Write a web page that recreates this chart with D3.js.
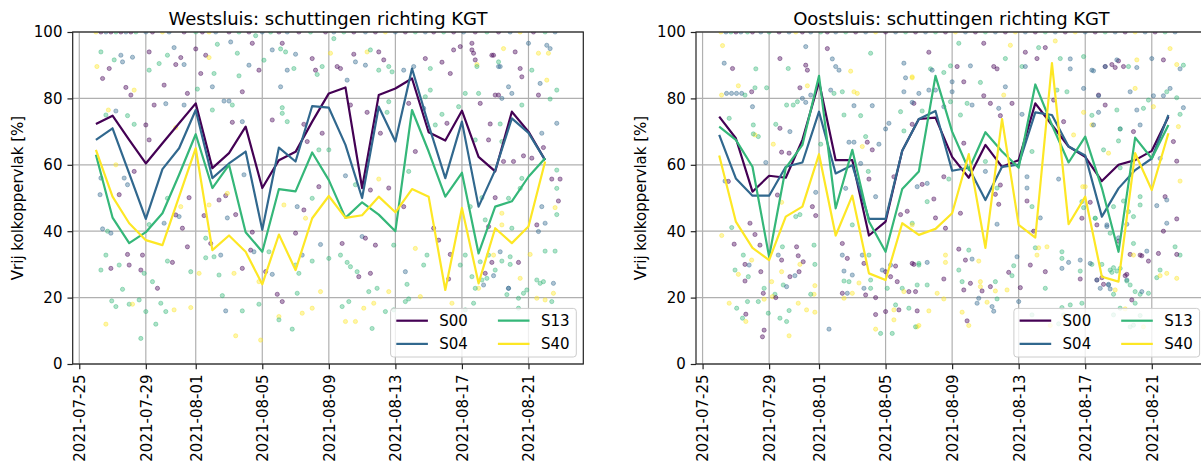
<!DOCTYPE html>
<html>
<head>
<meta charset="utf-8">
<script src="https://cdn.jsdelivr.net/npm/d3@7"></script>
<style>
  body { margin: 0; background: #fff; }
  text { font-family: "DejaVu Sans", sans-serif; fill: #000; }
</style>
</head>
<body>
<svg id="chart" width="1201" height="468"></svg>
<script>
// daily means, first value = 2021-07-26
var firstDay = '2021-07-26';
var seriesNames = ['S00', 'S04', 'S13', 'S40'];
var seriesColors = ['#440154', '#31688e', '#35b779', '#fde725'];
var yTicks = [0, 20, 40, 60, 80, 100];
var xTickDates = ['2021-07-25', '2021-07-29', '2021-08-01', '2021-08-05', '2021-08-09', '2021-08-13', '2021-08-17', '2021-08-21'];

var westS00 = [72.3, 74.8, 67.5, 60.4, 66.5, 72.5, 78.5, 59, 63.5, 71.5, 53, 61.4, 63.9, 73, 81.5, 83.3, 53, 81, 83, 86, 69.8, 67.3, 76.3, 62.4, 58, 76, 70, 61.4];
var westS04 = [67.5, 71, 57.4, 43.7, 58.7, 65, 76.5, 56, 60.4, 64, 40.4, 65.2, 61, 77.7, 77.2, 66, 50, 77.5, 67, 89, 72, 56, 73, 47.4, 58.4, 74, 69.6, 61.4];
var westS13 = [63, 44.1, 36.4, 39.7, 45.4, 57, 69.2, 53, 60, 39.7, 33.8, 52.7, 52, 63.7, 55.4, 44, 48.7, 45, 40, 76.5, 64, 50.4, 57.6, 33.3, 47.4, 49, 56.4, 62];
var westS40 = [64.5, 50.4, 42.4, 37.3, 35.8, 50.4, 65, 34.3, 38.7, 33.8, 24, 39, 28.3, 43.9, 50.6, 44, 44.8, 50.4, 45.7, 52.7, 50.4, 22.3, 47, 24.3, 40.9, 36.4, 41.4, 61];

var oostS00 = [74.5, 68, 51.9, 56.7, 56.1, 67.5, 85, 61.4, 61.4, 38.7, 42.9, 64.2, 73.8, 74.2, 62.4, 56.1, 66, 59.4, 61.4, 78.5, 72, 65.5, 62.4, 55.1, 60, 61.4, 64.2, 74.5];
var oostS04 = [69, 55.9, 50.7, 50.7, 59.4, 60.7, 76, 57.4, 59.9, 43.7, 43.7, 64.2, 73.8, 76.2, 58.2, 59.1, 49.4, 59.4, 60.1, 75.8, 75, 65.5, 62.8, 44.4, 52.9, 58.4, 61.9, 75];
var oostS13 = [71.5, 67.5, 59.4, 32.3, 59.1, 66, 86.8, 46.9, 64.5, 42.9, 33.8, 52.7, 58, 86.8, 70, 58.5, 69.8, 64, 59.1, 84.2, 72, 60.7, 68.5, 53, 33.8, 68.2, 61.9, 72];
var oostS40 = [62.8, 42.9, 35, 31.3, 44.4, 47.4, 63.2, 38.7, 50.7, 27.3, 25.3, 42.4, 38.9, 40.7, 45.4, 63.2, 35, 73.8, 41.9, 38.1, 90.6, 42.1, 50.4, 26.3, 24.8, 63.5, 52.4, 69.5];

// single lockages: [days since firstDay, value, series index]
var westDots = [
  [0.0,100,3],[0.3,100,0],[0.6,100,1],[0.9,100,0],[1.2,100,2],[1.5,100,0],[1.8,100,1],[2.1,100,0],[2.4,100,2],[3.0,100,1],[3.4,100,0],[4.0,100,3],[4.4,100,1],[5.3,100,0],[6.0,100,2],[6.4,100,0],[6.8,100,3],[7.2,100,1],[8.0,100,0],[8.6,100,2],[9.2,100,0],[10.0,100,1],[10.5,100,2],[11.0,100,0],[11.5,100,1],[12.2,100,0],[12.9,100,2],[13.8,100,0],[14.3,100,1],[14.9,100,2],[15.5,100,0],[16.2,100,1],[16.8,100,0],[17.4,100,3],[18.0,100,1],[18.6,100,0],[19.2,100,2],[19.8,100,1],[20.3,100,0],[20.9,100,2],[21.5,100,0],[22.1,100,1],[22.8,100,0],[23.5,100,2],[24.2,100,0],[24.9,100,1],[25.5,100,3],[26.3,100,0],[27.0,100,2],[27.6,100,1],
  [0.3,94,2],[0.06,89.6,3],[0.4,86,0],[0.8,89,0],[1.1,91.6,2],[1.5,93,1],[1.6,91,1],[2.2,92.4,1],[2.3,82.5,3],[1.8,83.3,0],[2.1,81,0],[3.2,94,0],[3.2,88.5,2],[3.8,90.5,2],[4.1,84,0],[4.3,93,2],[4.7,95.3,1],[4.8,90.2,0],[5.1,92.3,0],[5.3,90.2,1],[5.5,81.5,0],[6.0,94.9,0],[6.1,82.8,2],[6.3,87.5,0],[6.6,93,0],[6.8,92.3,3],[7.1,87.5,2],[7.0,83.5,1],[7.3,96.3,2],[7.7,79.2,1],[8.1,97,1],[8.2,72.8,0],[8.5,93.6,2],[8.6,86.8,2],[8.8,82,0],[9.2,90,1],[9.4,96.6,0],[9.6,98.9,2],[9.8,88.5,0],[10.1,91.5,2],[10.6,94.6,1],[11.1,83.5,1],
  [0.3,56,1],[0.25,51,1],[0.4,40.7,1],[0.7,40,2],[0.9,39.4,1],[0.6,32.8,2],[0.3,28.3,2],[0.9,28.8,0],[0.95,19,2],[1.2,17.3,2],[0.6,12,3],[1.4,29.8,2],[1.6,22.5,2],[1.9,33,0],[2.0,29.8,0],[2.0,18,2],[2.2,18,3],[2.6,19.3,2],[2.7,7.7,2],[2.7,28.3,0],[2.8,32.8,0],[2.9,27.3,2],[3.0,15.8,2],[3.2,42,2],[3.4,24.8,2],[3.6,12,2],[3.7,22.8,0],[3.9,18.3,2],[4.2,15.8,2],[4.3,31,2],[4.6,30.6,0],[4.7,16.3,3],[4.8,44.9,0],[5.0,44.4,1],[5.2,40.9,0],[5.5,35.3,0],[5.7,27.8,2],[5.7,17,3],[6.2,27.3,3],[6.5,44.7,0],[6.6,37.9,2],[6.6,32,2],[6.9,36.3,0],[7.1,32.3,2],[7.4,26.8,2],[7.5,32.8,1],[7.6,20.6,2],[7.8,16,1],[8.3,27.3,3],[8.4,8.5,3],[8.8,16,2],[8.8,28.8,0],[9.3,34.3,0],[9.5,33.8,1],[9.8,24.8,3],[9.8,18,2],[9.9,7.2,3],[10.2,27.8,0],[10.4,33.8,2],[10.6,27,1],[10.9,21,0],[11.0,14.3,3],[11.0,13.3,2],[9.4,39.7,0],[8.4,45,0],[7.8,50.7,0],[7.4,49.4,0],[7.9,44,1],[8.9,57,1],[6.8,47.9,3],[7.9,51.4,3],[5.6,50.1,0],[5.1,47.4,3],[4.3,49.9,2],[4.1,42.4,1],[2.3,58,0],[1.7,56,1],[1.9,54,1],[1.4,51,0],[1.2,60,3],[0.6,75,2],[0.75,76.5,3],[1.2,76.2,1],[1.9,74.8,2],[2.3,72.2,2],[3.2,67.5,0],[3.5,78,0],[4.2,78.4,1],[3.0,72,0],[4.8,71.2,3],[5.3,78,1],[7.0,76.5,2],[8.0,79.2,1],[8.2,78,2],[8.8,73,1],[10.6,73.5,0],[11.2,77.2,2],[11.1,94.9,2],
  [11.2,96.6,0],[11.4,94,2],[11.5,88.5,1],[12.0,93.3,1],[11.9,89,2],[13.0,92,0],[13.2,88.5,0],[13.3,87.2,2],[13.6,89.6,2],[14.3,98,2],[14.1,93.6,3],[14.5,89.6,0],[14.7,89,0],[15.1,85.5,1],[15.5,93.3,0],[15.6,91,1],[16.2,90,1],[16.3,94,3],[16.5,94.6,2],[17.0,94,0],[17.3,91.6,0],[17.0,88.5,2],[17.6,89.6,2],[17.8,88,2],[18.5,88.5,1],[19.1,89.6,1],[19.8,92,0],[20.1,89,2],[20.8,90.9,0],[21.3,87.5,0],[21.5,94.6,0],[21.9,95.6,0],[22.6,94.6,0],[22.9,90.2,3],[23.9,93,0],[24.2,89.6,1],[24.8,83.5,1],[23.0,81.5,2],[24.0,81,0],[22.2,81.5,2],[21.8,77.5,2],[20.8,75.2,2],[21.1,72.5,0],[20.4,72,2],[19.8,80.5,2],[19.7,77,1],[20.1,82.5,2],[18.8,78.5,0],[17.6,79,2],[17.5,75.8,2],[16.3,75.8,0],[15.3,78,0],[13.6,69.5,0],[13.4,64.5,2],[14.0,64.5,2],[12.5,72.2,0],[11.5,73,2],[11.2,75.5,2],[12.7,67,0],[17.1,69.5,0],[19.2,64,0],[18.8,58,2],[18.5,47.4,0],[17.6,53,0],[17.0,55.7,3],[16.5,52.4,0],[15.6,54,2],[15.0,56.7,1],[13.4,53.4,0],[13.0,49.9,2],[11.3,47.9,3],[12.1,47.4,1],[12.5,46.4,0],[12.6,43.9,3],[12.0,39.4,0],[12.4,32.8,1],[12.0,29.8,2],[12.2,27.3,2],[13.0,31,2],[13.5,36,1],[14.0,31.8,2],[14.8,36.3,0],[14.7,32.8,2],[15.1,30.6,2],[15.3,29.3,2],[15.7,27.8,2],[15.8,26.3,0],[16.0,38.4,1],[16.2,37.9,0],[16.8,35.8,0],[16.5,27.3,0],[16.4,21.8,2],[16.9,22.8,2],[17.6,21.8,3],[17.9,35.8,2],[18.6,27.8,1],[18.7,24,2],[18.8,19.6,2],[19.2,34.8,3],[19.7,29.8,2],[19.9,32.8,2],[20.3,40.9,0],[20.6,37.3,0],[21.3,33,0],[21.2,25.6,0],[21.9,29.8,2],[22.2,32.8,2],[22.6,26.3,2],[23.2,25.3,2],[23.4,27.3,0],[23.6,32.8,2],[24.0,28.3,2],[24.4,31,2],[24.8,22.8,1],[24.9,32.3,2],[23.0,22.8,3],[21.4,18.3,3],[22.2,16.3,2],[19.5,20.3,3],[14.8,17.3,2],[15.2,18.8,2],[15.6,12.8,3],[15.0,12.8,3],[16.1,16.8,3],[16.7,18.3,3],[17.4,15.8,2],[18.6,18.8,2],[17.9,16.3,2],[16.6,10.7,2],[13.5,21.8,3],[13.0,16.8,3],[12.4,15.3,3],[11.8,10.5,2],[11.2,18.8,0],[12.1,21.3,2],
  [22.6,96.6,0],[22.7,93.6,0],[22.8,91.6,0],[22.9,89.6,2],[23.8,93,0],[24.2,91,2],[24.3,89.6,1],[24.5,95,3],[25.2,94,0],[25.5,89,0],[25.6,86.5,0],[26.0,96.6,1],[26.2,88.5,2],[26.6,93.6,3],[26.7,84.5,1],[27.1,96,1],[27.3,95,1],[27.2,93.6,3],[27.1,85.5,3],[27.7,82.5,2],[27.3,79.8,2],[26.6,81,0],[25.0,81.5,1],[24.4,80,1],[24.2,81,0],[25.6,78,2],[23.1,78.5,0],[27.7,72.5,1],[26.8,69.5,1],[26.9,65.2,0],[23.6,67.5,0],[23.7,72.3,0],[24.3,72.3,2],[24.4,67,2],[22.8,67.5,2],[24.5,61,0],[25.1,61,0],[25.7,62.7,0],[26.2,62,0],[27.7,58.4,2],[27.4,55.7,0],[27.9,55.7,0],[27.7,52.9,2],[27.8,49.1,0],[27.6,47.1,3],[27.7,45,2],[26.8,47.4,1],[26.6,39.9,1],[26.5,41.9,0],[27.0,42.4,1],[25.6,55.9,2],[25.5,52.9,2],[24.8,49.9,2],[24.4,45.4,3],[24.4,41.9,3],[25.0,40.9,2],[23.6,41.4,0],[23.4,43.4,2],[22.5,47.4,2],[23.2,50.1,2],[24.0,50.1,0],[24.3,33.8,1],[23.9,32.8,3],[24.9,30,2],[25.4,30.6,0],[26.1,33,3],[27.6,34,2],[27.0,34,2],[23.8,30.6,0],[23.1,30.8,2],[23.5,25.8,2],[22.8,22.8,2],[23.3,23.8,1],[23.9,26.6,1],[24.8,22.8,1],[24.7,20.9,2],[25.5,25.8,3],[25.9,22.3,2],[25.7,21.3,2],[26.5,25.3,2],[26.9,24.8,2],[26.7,24.3,2],[27.5,24.3,1],[27.5,21.3,3],[26.5,19.8,3],[27.0,19.3,3],[27.4,18.8,2],[25.4,19.8,2],[25.4,16.8,2],[22.7,18.3,2]
];

var oostDots = [
  [0.1,100,3],[0.4,100,1],[0.7,100,2],[1.0,100,0],[1.3,100,1],[1.7,100,2],[2.0,100,0],[2.5,100,1],[3.0,100,2],[3.6,100,0],[4.2,100,1],[4.6,100,3],[5.0,100,0],[5.5,100,1],[6.1,100,2],[6.5,100,0],[7.0,100,1],[7.6,100,2],[8.2,100,0],[8.8,100,1],[9.4,100,3],[10.0,100,0],[10.6,100,1],[11.2,100,2],[11.8,100,0],[12.4,100,1],[13.0,100,2],[13.6,100,0],[14.2,100,3],[14.8,100,1],[15.4,100,0],[16.0,100,2],[16.6,100,1],[17.2,100,0],[17.8,100,3],[18.4,100,1],[19.0,100,0],[19.6,100,2],[20.2,100,1],[20.8,100,0],[21.4,100,3],[22.0,100,1],[22.6,100,0],[23.2,100,2],[23.8,100,1],[24.4,100,0],[25.0,100,3],[25.6,100,1],[26.2,100,0],[26.8,100,2],[27.4,100,1],
  [0.2,95.9,3],[0.3,90.6,1],[0.8,89,0],[1.15,83.8,3],[0.14,81,3],[0.44,81.5,1],[0.74,81.5,1],[1.04,81.5,1],[1.35,81.5,1],[1.55,81,2],[1.95,82,0],[2.2,88.9,2],[2.15,83.2,2],[2.0,77.5,1],[2.05,72,2],[2.35,68.5,2],[2.15,69,3],[0.6,74,2],[2.85,83.2,2],[3.65,92,0],[3.4,72.2,2],[3.65,71,0],[4.25,70,1],[4.15,89,2],[4.05,78,2],[4.45,78,2],[4.7,79,2],[5.0,80,1],[5.2,95.6,1],[5.2,90,0],[5.3,88.5,0],[4.85,83.2,0],[5.3,83.8,3],[5.5,81,1],[5.2,78.8,1],[6.5,95,0],[6.8,91.9,1],[7.0,89.6,1],[7.2,88.5,1],[7.9,88.2,3],[9.1,93.6,2],[9.2,77.8,1],[8.1,77.8,1],[7.5,75,2],[8.5,74.8,2],[6.7,82.5,1],[6.9,81.5,2],[7.4,82,2],[8.1,82,3],[8.3,81.5,3],[11.1,90.6,1],[11.2,86.2,1],[11.6,86.2,3],[11.1,82,1],[12.0,81.5,1],[11.7,78.5,0],[10.9,76,2],[11.1,70.2,2],[10.2,72.5,1],[10.0,70.8,1],[8.8,68.5,2],[8.9,66.8,0],[9.2,64.5,0],[9.6,66.2,1],[7.8,66.8,1],[8.1,66.8,1],[8.5,60.4,1],[8.6,65.5,3],[3.25,66.2,3],[2.05,69.3,2],[2.8,60.7,1],[3.75,63.8,0],[4.2,63.5,0],[6.1,66.2,2],[5.8,51.7,1],[5.8,44.7,0],[5.6,47.4,0],[3.75,48.7,3],[3.5,50.9,0],[4.85,45,2],[4.6,44.4,2],[0.35,55.1,1],[0.55,55,0],[1.85,42.4,0],[2.15,39,0],[2.45,35.8,0],[0.15,38.7,3],[0.75,41.1,2],[0.9,36.1,0],[1.45,32.8,2],[1.55,30,0],[1.8,29.8,1],[1.95,31.3,3],[0.95,28.3,2],[1.15,27,3],[1.55,25,0],[1.75,26.3,2],[2.5,27.8,0],[2.7,22.8,2],[2.65,21.3,0],[3.15,24.8,3],[3.55,32.8,1],[3.8,35.3,2],[3.75,27.8,3],[3.85,23.8,2],[4.05,23.3,1],[3.75,31.3,0],[4.25,26.3,0],[4.55,26.6,1],[4.65,35.3,0],[4.75,32.6,0],[4.85,30,3],[5.05,30.8,0],[4.8,27.8,0],[5.7,35.8,2],[5.75,30,2],[5.75,23.6,3],[5.7,21,3],[5.5,21,2],[3.35,21,2],[3.2,20.3,3],[3.4,20,0],[2.35,18.8,2],[2.7,19.5,3],[0.6,18.3,3],[1.05,16.8,2],[1.6,15,0],[1.7,18.8,2],[1.4,13.8,2],[1.6,12.8,3],[2.95,15.3,2],[3.65,13.8,2],[4.05,12.8,2],[4.2,16.1,2],[4.75,18.3,3],[5.25,16.3,3],[5.75,15.6,3],[2.7,10.2,0],[2.6,8.2,0],[4.2,8.5,3],[6.6,10.5,1],[7.5,28,1],[7.5,25,2],[7.8,24.8,2],[8.0,26.8,1],[7.7,21.3,1],[7.4,21.3,0],[7.5,19.8,3],[8.0,21.3,3],[8.4,24.4,3],[8.7,22.8,1],[8.8,20.8,0],[9.0,32.8,2],[9.1,25.3,2],[9.1,22.8,2],[9.4,20,0],[9.4,14.9,0],[9.4,10.5,3],[9.7,9.2,2],[10.0,15.8,0],[10.1,22.8,2],[10.0,27.8,0],[10.3,26.3,0],[9.8,28.3,1],[10.3,29.8,1],[10.6,29.5,0],[10.7,24.8,0],[11.0,22.8,2],[10.6,17.8,2],[10.8,16.3,0],[10.5,16.3,3],[10.5,13.3,3],[10.4,9.2,2],[11.4,16.8,2],[11.1,21.8,3],[11.4,21.8,0],[11.6,30.3,0],[12.0,30.3,2],[11.9,11.2,3],[11.9,23.8,2],[8.7,30.3,0],[8.6,32.8,1],[7.4,32.8,1],[7.7,31.8,0],[7.4,36.3,0],[8.0,41.9,2],[9.4,50.4,1],[9.0,55.7,0],[10.9,45,0],[11.3,46,0],[11.6,42.4,2],[10.5,56.4,0],[7.6,52.9,1],[8.96,58,2],
  [11.6,86.5,3],[11.6,78.8,1],[12.6,93.9,0],[12.7,88.9,2],[12.8,88.5,1],[12.6,82.5,1],[13.0,82.5,1],[13.5,87.8,2],[13.9,89.8,2],[14.0,85,1],[14.0,82,1],[14.4,96.6,2],[14.3,89.6,0],[14.7,85,0],[15.1,89.8,1],[15.9,96.6,0],[15.7,84.8,2],[15.9,80.8,0],[16.5,89.6,0],[16.7,88.9,0],[17.2,92,2],[17.2,83.5,1],[17.1,81,3],[17.5,96,3],[18.4,93.9,0],[18.2,89.6,2],[18.4,89.6,1],[19.2,95.3,2],[19.1,92,0],[19.6,95.3,0],[20.2,97.3,3],[20.5,92,2],[21.1,91.9,1],[21.1,88.9,1],[21.9,92.6,2],[22.4,88.5,1],[22.8,81,0],[22.8,75.8,1],[23.2,89.6,0],[23.6,90.2,0],[24.0,91.3,0],[24.3,89.6,0],[24.7,82,1],[25.0,83,3],[24.1,70.8,1],[24.0,67.2,2],[22.4,72,3],[21.9,75.8,3],[21.3,69,3],[20.7,73,0],[20.3,82.5,2],[20.9,82,2],[20.1,79.5,0],[18.2,75.2,1],[18.8,64,2],[17.6,78.5,0],[16.9,74.8,0],[16.8,77,1],[16.3,78.5,0],[15.2,78,1],[14.9,78.5,2],[14.5,75,2],[13.9,79,2],[13.5,77.5,1],[11.6,72.2,0],[12.2,76.2,2],[14.7,66.5,0],[16.0,61,2],[16.0,58,1],[16.7,53,2],[16.9,53.9,0],[17.5,60,2],[18.5,56.4,1],[18.5,53,1],[18.8,47.4,2],[18.5,49.1,0],[18.9,40,0],[19.3,44,1],[20.4,55.7,1],[21.85,53.4,3],[21.8,48.9,2],[21.9,47.1,2],[21.8,43.9,0],[22.6,43.9,2],[22.7,41.9,0],[23.3,41.9,1],[23.7,47.4,2],[24.6,45.9,2],[25.3,47.9,2],[24.0,37,0],[24.5,42.1,1],[24.9,44.4,2],[13.5,56.4,0],[13.8,55.7,2],[12.5,54.4,1],[11.9,53.4,1],[12.2,54.1,0],[12.9,49.7,0],[13.0,44,0],[12.5,48.9,2],[11.6,41.9,3],[13.6,40.9,0],[14.5,45.4,0],[16.7,42.1,1],[16.8,48.1,0],[16.6,51.1,0],[13.6,32.8,3],[13.6,30.6,3],[13.5,25.6,0],[12.5,30.6,1],[12.0,29.8,2],[11.7,30,0],[14.4,34.6,0],[14.8,31.3,0],[15.2,31.6,1],[15.0,34.3,2],[15.6,31,3],[14.4,28.3,2],[14.6,24.8,2],[14.7,22.3,0],[15.7,24.8,3],[15.7,23.3,3],[15.8,22,0],[15.6,19.8,1],[16.3,23.3,0],[16.6,24.8,2],[16.6,22,3],[16.7,19.6,2],[16.1,18.6,3],[15.5,18.3,1],[15.1,24.3,0],[14.6,15.6,3],[14.9,13,0],[15.0,11.6,3],[16.4,17.3,1],[16.5,15.9,1],[17.4,27.6,0],[17.6,26.6,2],[17.7,29.6,2],[17.3,22.3,3],[17.9,32.3,1],[18.1,23,0],[18.0,18.8,1],[18.7,29.8,0],[19.0,35,2],[19.2,35,3],[19.7,35.3,3],[19.1,32.8,3],[19.6,27.8,0],[19.6,22.8,2],[20.6,31.8,2],[20.6,33.8,2],[20.6,28.8,1],[21.0,30.6,1],[21.7,31.3,1],[21.7,28,2],[21.7,25.6,0],[22.4,30,2],[22.7,25.3,0],[22.9,22.8,1],[23.0,26,0],[23.4,24,1],[23.6,27.6,2],[23.9,28,2],[24.1,28.8,2],[24.4,26.6,0],[24.5,25.3,1],[24.7,23.8,2],[25.3,32.8,0],[23.5,22.6,1],[21.8,18.3,2],[21.1,17.8,2],[20.6,17,2],[20.7,14.8,2],[20.4,12.1,2],[19.9,11.6,3],[18.8,14.8,2],[13.1,21.3,3],[13.5,19.6,3],[12.6,16,3],[11.9,16,0],[11.8,11.2,2],[12.0,11.6,3],[11.8,21.8,0],[12.5,23.8,2],[24.9,11.7,2],
  [22.5,88.3,1],[23.2,89.6,1],[23.8,89.3,0],[23.9,91.6,1],[24.6,89.6,2],[25.1,89.3,1],[25.1,91.6,3],[26.0,92,1],[26.7,91.6,0],[27.1,95,3],[27.5,90.2,3],[27.9,90,2],[27.7,88.9,1],[21.9,83,1],[22.8,80.8,1],[22.4,74.9,2],[22.5,72,1],[23.2,78,0],[23.9,76.5,2],[24.1,70.8,2],[24.9,70,0],[25.1,76.5,1],[25.3,72,1],[25.5,77,2],[25.8,79.5,2],[26.1,77.5,3],[26.1,80.8,1],[26.7,80.8,1],[26.9,82,2],[27.1,83,1],[27.5,80.2,2],[27.9,77.2,1],[27.7,75.2,2],[27.6,71.5,3],[27.3,67,0],[27.5,61.1,0],[27.7,55.1,3],[26.5,61.9,1],[26.8,50.4,0],[26.3,47.7,1],[26.9,49.4,1],[27.5,43.7,0],[26.9,42.4,1],[26.7,40,0],[25.3,50.4,2],[24.3,49.1,2],[23.1,64.5,2],[23.4,63.5,3],[24.1,59.1,2],[22.0,53.4,3],[22.3,48.7,0],[22.6,43.9,2],[23.3,41.4,1],[23.5,39.4,2],[24.0,38,1],[24.9,36.3,2],[24.7,33,0],[24.9,32.8,3],[25.7,34,1],[25.4,32.6,0],[25.8,31,0],[26.4,33.3,0],[26.5,28.3,2],[27.4,35.3,2],[27.7,32.8,2],[27.5,33,0],[22.3,30.3,1],[23.0,30,2],[23.5,28.3,2],[23.7,29,2],[22.7,25.3,1],[23.1,24,0],[23.4,23.8,1],[23.8,22.3,3],[23.7,21,2],[24.5,25,2],[24.5,27,0],[25.0,21.8,2],[24.8,19.3,0],[25.3,21,2],[25.4,21.8,1],[25.8,21.3,2],[26.3,26,2],[26.5,26.6,3],[26.9,27.3,3],[27.5,25.8,3],[24.1,16.8,2],[24.4,16.6,3],[25.0,18.3,2],[25.3,14.6,2],[25.5,11.2,3],[24.7,11.2,2],[23.7,14.8,2]
];

var svg = d3.select('#chart'),
    parseDay = d3.utcParse('%Y-%m-%d'),
    start = parseDay(firstDay),
    dayMs = 864e5,
    plotTop = 32, plotBottom = 364,
    fontSize = 15;

// shared time range of all lockages, padded 5% like matplotlib
var allDays = westDots.concat(oostDots).map(function(d){ return d[0]; }),
    dayExtent = d3.extent(allDays),
    pad = (dayExtent[1] - dayExtent[0]) * 0.05,
    xDomain = [new Date(start.getTime() + (dayExtent[0] - pad) * dayMs),
               new Date(start.getTime() + (dayExtent[1] + pad) * dayMs)];

var y = d3.scaleLinear().domain([0, 100]).range([plotBottom, plotTop]);

drawPanel({ left: 72.7, right: 583.3, id: 'west', title: 'Westsluis: schuttingen richting KGT',
            series: [westS00, westS04, westS13, westS40], dots: westDots });
drawPanel({ left: 696, right: 1206.6, id: 'oost', title: 'Oostsluis: schuttingen richting KGT',
            series: [oostS00, oostS04, oostS13, oostS40], dots: oostDots });

function drawPanel(p){
    var x = d3.scaleUtc().domain(xDomain).range([p.left, p.right]);
    var g = svg.append('g');

    g.append('clipPath').attr('id', 'clip-' + p.id)
        .append('rect')
        .attr('x', p.left).attr('y', plotTop)
        .attr('width', p.right - p.left).attr('height', plotBottom - plotTop);

    // grid
    var xTicks = xTickDates.map(parseDay);
    g.append('g').selectAll('line').data(xTicks).join('line')
        .attr('x1', function(d){ return x(d); }).attr('x2', function(d){ return x(d); })
        .attr('y1', plotTop).attr('y2', plotBottom)
        .attr('stroke', '#b0b0b0').attr('stroke-width', 1.2);
    g.append('g').selectAll('line').data(yTicks).join('line')
        .attr('x1', p.left).attr('x2', p.right)
        .attr('y1', function(d){ return y(d); }).attr('y2', function(d){ return y(d); })
        .attr('stroke', '#b0b0b0').attr('stroke-width', 1.2);

    var plot = g.append('g').attr('clip-path', 'url(#clip-' + p.id + ')');

    // single lockages
    plot.append('g').selectAll('circle').data(p.dots).join('circle')
        .attr('cx', function(d){ return x(new Date(start.getTime() + d[0] * dayMs)); })
        .attr('cy', function(d){ return y(d[1]); })
        .attr('r', 2.1)
        .attr('fill', function(d){ return seriesColors[d[2]]; })
        .attr('fill-opacity', 0.4)
        .attr('stroke', function(d){ return seriesColors[d[2]]; })
        .attr('stroke-opacity', 0.4)
        .attr('stroke-width', 1);

    // daily means
    var line = d3.line()
        .x(function(d, i){ return x(d3.utcDay.offset(start, i)); })
        .y(function(d){ return y(d); });
    p.series.forEach(function(s, k){
        plot.append('path').datum(s)
            .attr('d', line)
            .attr('fill', 'none')
            .attr('stroke', seriesColors[k])
            .attr('stroke-width', 2.2)
            .attr('stroke-linejoin', 'round');
    });

    // y axis
    var yAxis = g.append('g').attr('transform', 'translate(' + p.left + ',0)')
        .call(d3.axisLeft(y).tickValues(yTicks).tickSize(5.25).tickPadding(5));
    yAxis.select('.domain').remove();
    yAxis.selectAll('.tick line').attr('stroke', '#222').attr('stroke-width', 1.2);
    yAxis.selectAll('text').attr('font-size', fontSize).attr('font-family', '"DejaVu Sans", sans-serif');

    // x axis, labels rotated
    var xAxis = g.append('g').attr('transform', 'translate(0,' + plotBottom + ')')
        .call(d3.axisBottom(x).tickValues(xTicks).tickFormat(d3.utcFormat('%Y-%m-%d')).tickSize(5.25));
    xAxis.select('.domain').remove();
    xAxis.selectAll('.tick line').attr('stroke', '#222').attr('stroke-width', 1.2);
    xAxis.selectAll('text')
        .attr('font-size', fontSize).attr('font-family', '"DejaVu Sans", sans-serif')
        .attr('text-anchor', 'end')
        .attr('x', -10.5).attr('y', 0).attr('dy', '0.36em')
        .attr('transform', 'rotate(-90)');

    // spines
    g.append('rect')
        .attr('x', p.left).attr('y', plotTop)
        .attr('width', p.right - p.left).attr('height', plotBottom - plotTop)
        .attr('fill', 'none').attr('stroke', '#222').attr('stroke-width', 1.2);

    // titles
    g.append('text')
        .attr('x', (p.left + p.right) / 2).attr('y', 25)
        .attr('text-anchor', 'middle').attr('font-size', 18)
        .text(p.title);
    g.append('text')
        .attr('transform', 'translate(' + (p.left - 49.7) + ',' + ((plotTop + plotBottom) / 2) + ') rotate(-90)')
        .attr('text-anchor', 'middle').attr('font-size', fontSize)
        .text('Vrij kolkoppervlak [%]');

    drawLegend(g, p.right - 7, plotBottom - 7);
}

function drawLegend(g, right, lower){
    var w = 185.7, h = 48.6,
        left = right - w, upper = lower - h,
        colX = [left + 5.7, left + 107.3],
        rowY = [upper + 12.3, upper + 35.5];
    var lg = g.append('g');
    lg.append('rect')
        .attr('x', left).attr('y', upper).attr('width', w).attr('height', h)
        .attr('rx', 3).attr('fill', '#fff').attr('fill-opacity', 0.8)
        .attr('stroke', '#cccccc').attr('stroke-width', 1);
    seriesNames.forEach(function(name, k){
        var cx = colX[Math.floor(k / 2)], cy = rowY[k % 2];
        lg.append('line')
            .attr('x1', cx).attr('x2', cx + 31.6)
            .attr('y1', cy).attr('y2', cy)
            .attr('stroke', seriesColors[k]).attr('stroke-width', 2.2);
        lg.append('text')
            .attr('x', cx + 43).attr('y', cy).attr('dy', '0.36em')
            .attr('font-size', fontSize)
            .text(name);
    });
}
</script>
</body>
</html>
